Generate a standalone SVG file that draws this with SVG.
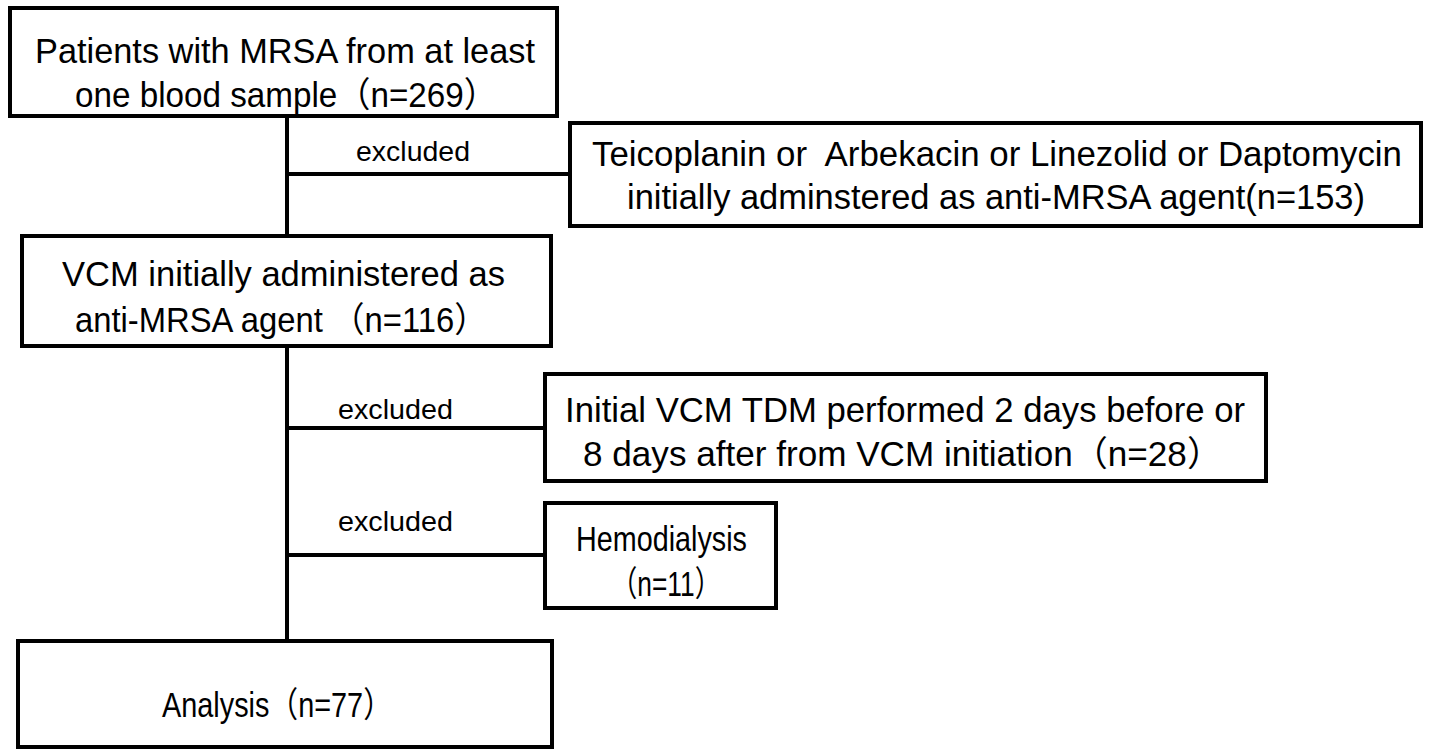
<svg xmlns="http://www.w3.org/2000/svg" width="1430" height="749" viewBox="0 0 1430 749">
<style>
.box{fill:#fff;stroke:#000;stroke-width:4}
.ln{stroke:#000;stroke-width:4;fill:none}
.t{font-family:"Liberation Sans","Noto Sans CJK JP",sans-serif;font-size:35px;fill:#000}
.ex{font-family:"Liberation Sans","Noto Sans CJK JP",sans-serif;font-size:28px;fill:#000}
</style>
<rect width="1430" height="749" fill="#fff"/>
<g id="connectors">
<line class="ln" x1="287" y1="116" x2="287" y2="236"/>
<line class="ln" x1="287" y1="346" x2="287" y2="641"/>
<line class="ln" x1="287" y1="174" x2="570" y2="174"/>
<line class="ln" x1="287" y1="428" x2="545" y2="428"/>
<line class="ln" x1="287" y1="555" x2="545" y2="555"/>
<text class="ex" x="356" y="161" textLength="114" lengthAdjust="spacingAndGlyphs">excluded</text>
<text class="ex" x="338" y="419" textLength="115" lengthAdjust="spacingAndGlyphs">excluded</text>
<text class="ex" x="338" y="531" textLength="115" lengthAdjust="spacingAndGlyphs">excluded</text>
</g>
<g id="n1">
<rect class="box" x="10" y="8" width="547" height="108"/>
<text class="t" x="35" y="63" textLength="500" lengthAdjust="spacingAndGlyphs">Patients with MRSA from at least</text>
<text class="t" x="75" y="107" textLength="422" lengthAdjust="spacingAndGlyphs">one blood sample（n=269）</text>
</g>
<g id="n2">
<rect class="box" x="570" y="123" width="851" height="103"/>
<text class="t" x="592" y="166" textLength="810" lengthAdjust="spacingAndGlyphs">Teicoplanin or&#160; Arbekacin or Linezolid or Daptomycin</text>
<text class="t" x="627" y="209" textLength="738" lengthAdjust="spacingAndGlyphs">initially adminstered as anti-MRSA agent(n=153)</text>
</g>
<g id="n3">
<rect class="box" x="22" y="236" width="529" height="110"/>
<text class="t" x="62" y="286" textLength="443" lengthAdjust="spacingAndGlyphs">VCM initially administered as</text>
<text class="t" x="75" y="332" textLength="412" lengthAdjust="spacingAndGlyphs">anti-MRSA agent （n=116）</text>
</g>
<g id="n4">
<rect class="box" x="545" y="374" width="721" height="107"/>
<text class="t" x="565" y="422" textLength="680" lengthAdjust="spacingAndGlyphs">Initial VCM TDM performed 2 days before or</text>
<text class="t" x="583" y="466" textLength="639" lengthAdjust="spacingAndGlyphs">8 days after from VCM initiation（n=28）</text>
</g>
<g id="n5">
<rect class="box" x="545" y="503" width="231" height="105"/>
<text class="t" x="576" y="551" textLength="171" lengthAdjust="spacingAndGlyphs">Hemodialysis</text>
<text class="t" x="611" y="596" textLength="110" lengthAdjust="spacingAndGlyphs">（n=11）</text>
</g>
<g id="n6">
<rect class="box" x="18" y="641" width="534" height="106"/>
<text class="t" x="162" y="717" textLength="230" lengthAdjust="spacingAndGlyphs">Analysis（n=77）</text>
</g>
</svg>
